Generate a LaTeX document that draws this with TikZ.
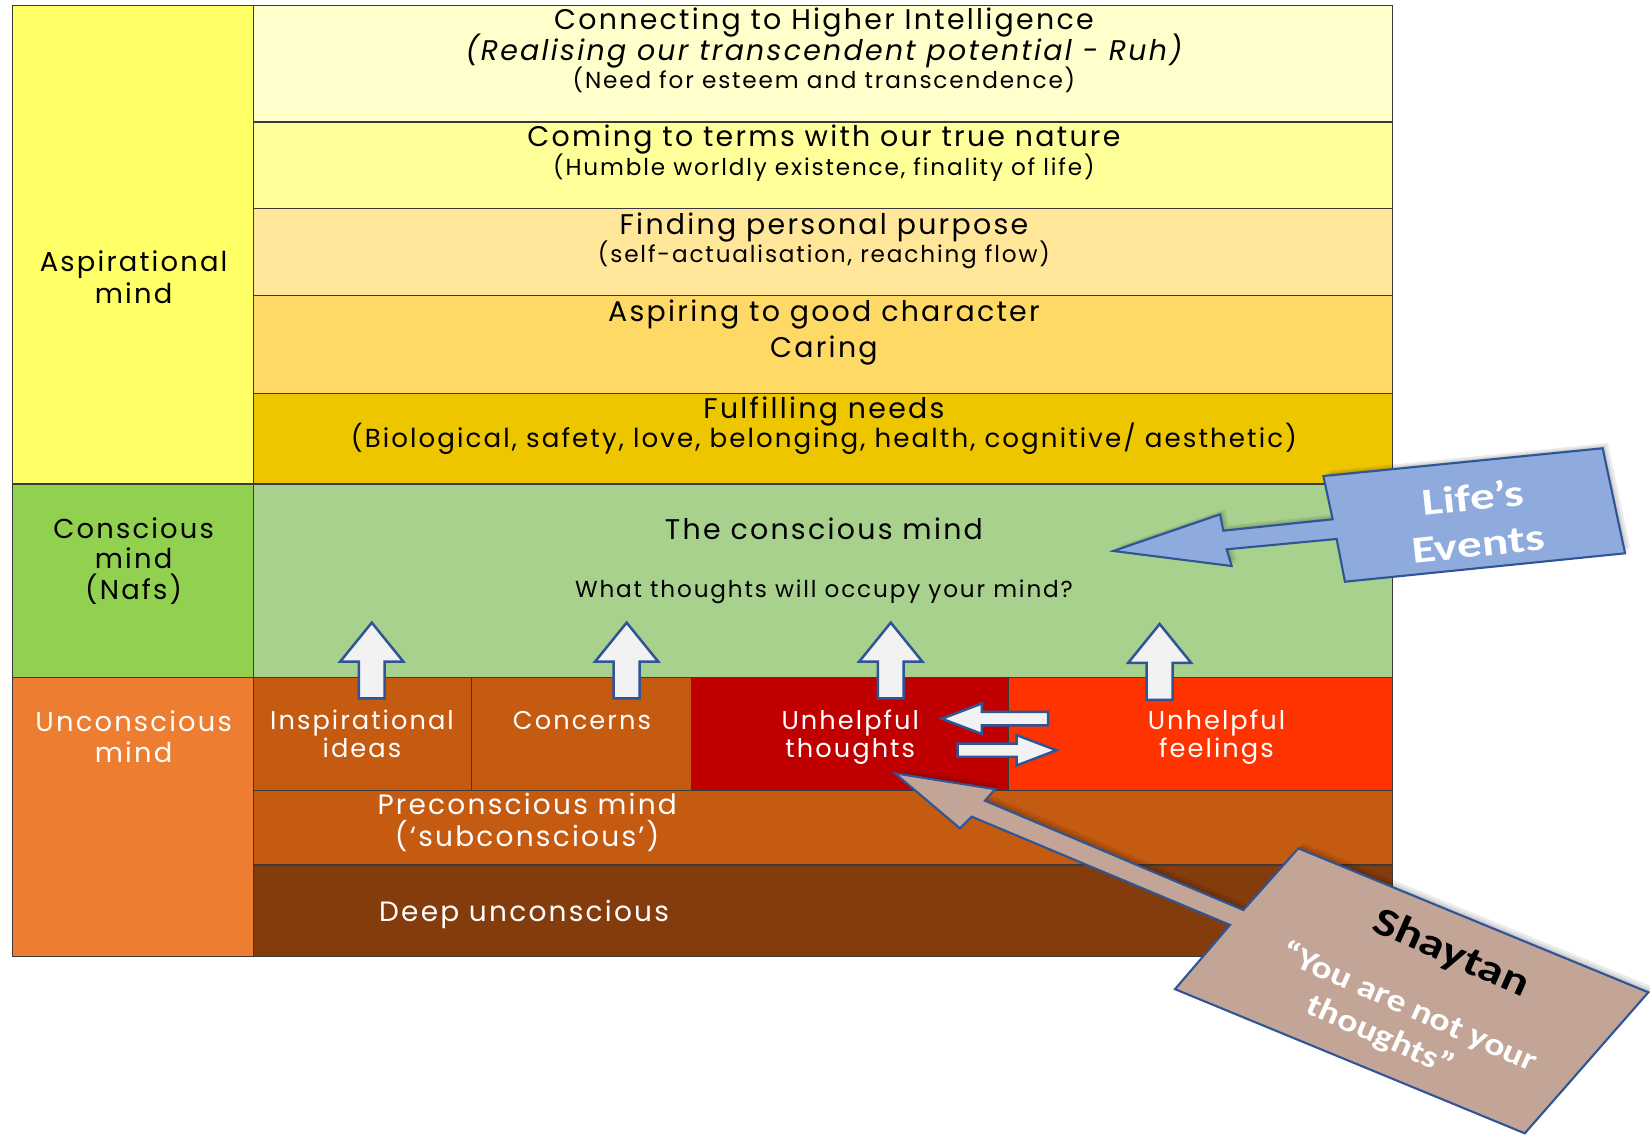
\documentclass[tikz,border=0pt]{standalone}
\usepackage{fontspec}
\setmainfont[LetterSpace=8]{Poppins}
\newfontfamily\callfont{Carlito}

\definecolor{linec}{HTML}{3A3A3A}
\definecolor{aspL}{HTML}{FFFF66}
\definecolor{rowA}{HTML}{FFFFCC}
\definecolor{rowB}{HTML}{FFFF99}
\definecolor{rowC}{HTML}{FFE699}
\definecolor{rowD}{HTML}{FFD966}
\definecolor{rowE}{HTML}{EEC600}
\definecolor{consL}{HTML}{92D050}
\definecolor{consM}{HTML}{A9D18E}
\definecolor{uncL}{HTML}{ED7D31}
\definecolor{uncC}{HTML}{C55A11}
\definecolor{uthc}{HTML}{C00000}
\definecolor{ufec}{HTML}{FF3300}
\definecolor{deepc}{HTML}{843C0C}
\definecolor{arrowfill}{HTML}{F2F2F2}
\definecolor{arrowline}{HTML}{2F5597}
\definecolor{lifec}{HTML}{8FAADC}
\definecolor{shayc}{HTML}{C3A597}

\begin{document}
\begin{tikzpicture}[x=0.5pt,y=-0.5pt,
  grid/.style={draw=linec, line width=0.6pt},
  lbl/.style={anchor=mid, inner sep=0pt},
  big/.style={lbl, font=\fontsize{13.5}{15}\selectfont},
  side/.style={lbl, font=\fontsize{13}{15}\selectfont},
  wide/.style={lbl, font=\fontsize{12.4}{14}\selectfont},
  mid/.style={lbl, font=\fontsize{11}{13}\selectfont},
  cellt/.style={lbl, text=white, font=\fontsize{12.2}{14}\selectfont},
  layer/.style={lbl, text=white, font=\fontsize{13.3}{15}\selectfont},
  blockarrow/.style={fill=arrowfill, draw=arrowline, line width=1.2pt, line join=miter},
  callout/.style={draw=arrowline, line width=1pt, line join=miter},
  haze/.style={fill=black, opacity=0.08},
  calltext/.style={inner sep=0pt, align=center},
  uparrow/.pic={\path[blockarrow] (0,0) -- (30,37) -- (12.3,37) -- (12.3,72)
      -- (-12.3,72) -- (-12.3,37) -- (-30,37) -- cycle;},
  leftarrow/.pic={\path[blockarrow] (0,0) -- (38,-14.5) -- (38,-6.4) -- (101,-6.4)
      -- (101,6.4) -- (38,6.4) -- (38,14.5) -- cycle;},
  rightarrow/.pic={\path[blockarrow] (0,0) -- (-38,-14.5) -- (-38,-6.3) -- (-94,-6.3)
      -- (-94,6.3) -- (-38,6.3) -- (-38,14.5) -- cycle;},
  lifeshape/.pic={\path[pic actions] (1058,523.6) -- (1159.4,488.8) -- (1162.5,504.3)
      -- (1266.4,493.5) -- (1257.6,452.4) -- (1523,426) -- (1544.3,525.8)
      -- (1278.1,552.8) -- (1270.2,512.2) -- (1165.7,522) -- (1170.5,537.9) -- cycle;},
  shayshape/.pic={\path[pic actions] (850.5,734.9) -- (945.6,750) -- (936,760.9)
      -- (1181.5,864.8) -- (1233.8,806.2) -- (1566.4,943) -- (1449,1077)
      -- (1116.6,940) -- (1168.9,879) -- (923.4,776.1) -- (912.3,787.2) -- cycle;},
]
\useasboundingbox[fill=white] (0,0) rectangle (1568,1080);

% left column
\draw[grid, fill=aspL]  (12,5)   rectangle (241,460);
\draw[grid, fill=consL] (12,460) rectangle (241,644);
\draw[grid, fill=uncL]  (12,644) rectangle (241,909);

% aspirational levels
\draw[grid, fill=rowA] (241,5)   rectangle (1323,116);
\draw[grid, fill=rowB] (241,116) rectangle (1323,198);
\draw[grid, fill=rowC] (241,198) rectangle (1323,281);
\draw[grid, fill=rowD] (241,281) rectangle (1323,374);
\draw[grid, fill=rowE] (241,374) rectangle (1323,460);

% conscious and unconscious levels
\draw[grid, fill=consM] (241,460) rectangle (1323,644);
\draw[grid, fill=uncC]  (241,644) rectangle (448,751);
\draw[grid, fill=uncC]  (448,644) rectangle (657,751);
\draw[grid, fill=uthc]  (657,644) rectangle (958,751);
\draw[grid, fill=ufec]  (958,644) rectangle (1323,751);
\draw[grid, fill=uncC]  (241,751) rectangle (1323,822);
\draw[grid, fill=deepc] (241,822) rectangle (1323,909);

% left labels
\node[side] (asp1) at (127,253) {Aspirational};
\node[side] (asp2) at (127,283) {mind};
\node[side] (con1) at (127,506) {Conscious};
\node[side] (con2) at (127,535) {mind};
\node[side] (con3) at (127,564) {(Nafs)};
\node[side, text=white] (unc1) at (127,690) {Unconscious};
\node[side, text=white] (unc2) at (127,719) {mind};

% level texts
\node[big] (hi1) at (783,23) {Connecting to Higher Intelligence};
\node[big] (hi2) at (783,52) {\itshape (Realising our transcendent potential - Ruh)};
\node[mid] (hi3) at (783,79) {(Need for esteem and transcendence)};
\node[big] (tn1) at (783,134) {Coming to terms with our true nature};
\node[mid] (tn2) at (783,161) {(Humble worldly existence, finality of life)};
\node[big] (pp1) at (783,217) {Finding personal purpose};
\node[mid] (pp2) at (783,244) {(self-actualisation, reaching flow)};
\node[big] (gc1) at (783,300) {Aspiring to good character};
\node[big] (gc2) at (783,334) {Caring};
\node[big] (fn1) at (783,392) {Fulfilling needs};
\node[wide] (fn2) at (783,420) {(Biological, safety, love, belonging, health, cognitive/ aesthetic)};
\node[big] (cm1) at (783,507) {The conscious mind};
\node[mid] (cm2) at (783,562) {What thoughts will occupy your mind?};

% unconscious contents
\node[cellt] (ins1) at (344,688) {Inspirational};
\node[cellt] (ins2) at (344,714) {ideas};
\node[cellt] (cnc)  at (553,688) {Concerns};
\node[cellt] (uth1) at (808,688) {Unhelpful};
\node[cellt] (uth2) at (808,714) {thoughts};
\node[cellt] (ufe1) at (1156,688) {Unhelpful};
\node[cellt] (ufe2) at (1156,714) {feelings};
\node[layer] (pre1) at (501,769) {Preconscious mind};
\node[layer] (pre2) at (501,799) {(‘subconscious’)};
\node[layer] (dp)   at (498,870) {Deep unconscious};

% rising arrows
\pic (ua1) at (353.3,591.7) {uparrow};
\pic (ua2) at (595.5,591.7) {uparrow};
\pic (ua3) at (846.5,591.7) {uparrow};
\pic (ua4) at (1102,593) {uparrow};

% exchange between thoughts and feelings
\pic (la) at (895,683) {leftarrow};
\pic (ra) at (1004,713) {rightarrow};

% Life's Events callout with a soft shadow
\pic[haze] at (5,-5) {lifeshape};
\pic[haze] at (3,-3) {lifeshape};
\pic[haze] at (1.5,-1.5) {lifeshape};
\pic[callout, fill=lifec] at (0,0) {lifeshape};
\node[calltext, rotate=6, text=white, font=\callfont\bfseries\fontsize{18}{22.1}\selectfont]
  (life) at (1402.2,494.2)
  {\scalebox{1.3}[1]{Life’s}\\\scalebox{1.3}[1]{Events}};

% Shaytan callout with a soft shadow
\pic[haze] at (5,-5) {shayshape};
\pic[haze] at (3,-3) {shayshape};
\pic[haze] at (1.5,-1.5) {shayshape};
\pic[callout, fill=shayc] at (0,0) {shayshape};
\node[calltext, rotate=-24, text=white, font=\callfont\bfseries\fontsize{15}{18}\selectfont]
  (shay) at (1345,944)
  {\hspace*{16pt}\scalebox{1.25}[1]{\textcolor{black}{\fontsize{19}{21}\selectfont Shaytan}}\\[12.5pt]
   \scalebox{1.2}[1]{“You are not your}\\
   \scalebox{1.2}[1]{thoughts”}\hspace*{14pt}};
\end{tikzpicture}
\end{document}
